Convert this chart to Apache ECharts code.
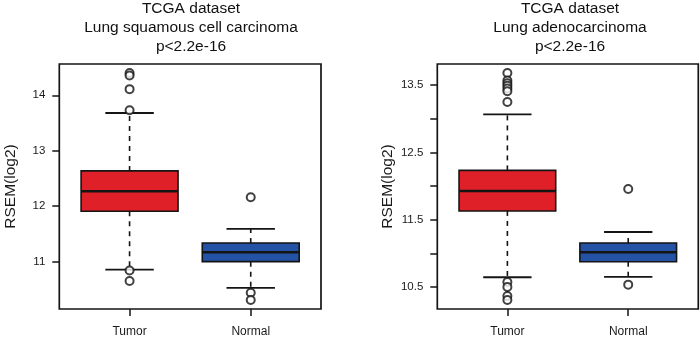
<!DOCTYPE html>
<html>
<head>
<meta charset="utf-8">
<script src="https://cdn.jsdelivr.net/npm/echarts@6/dist/echarts.min.js"></script>
<style>html,body{margin:0;padding:0;background:#fff}#c{width:700px;height:346px}</style>
</head>
<body>
<div id="c"></div>
<script>
// ---- data ----
const categories = ['Tumor', 'Normal'];
// [min whisker, Q1, median, Q3, max whisker]
const luscTumorBox  = [10.856, 11.91, 12.27, 12.636, 13.68];
const luscNormalBox = [10.526, 11.00, 11.17, 11.337, 11.59];
const luscTumorOut  = [14.40, 14.355, 14.11, 13.73, 10.84, 10.65];
const luscNormalOut = [12.16, 10.44, 10.31];
const luadTumorBox  = [10.644, 11.63, 11.926, 12.233, 13.065];
const luadNormalBox = [10.65, 10.875, 11.015, 11.153, 11.317];
const luadTumorOut  = [13.68, 13.57, 13.53, 13.49, 13.45, 13.41, 13.25, 10.574, 10.50, 10.366, 10.307];
const luadNormalOut = [11.955, 10.534];
const luscTicks = [11, 12, 13, 14];
const luscLabels = [11, 12, 13, 14];
const luadTicks = [10.5, 11, 11.5, 12, 12.5, 13, 13.5];
const luadLabels = [10.5, 11.5, 12.5, 13.5];
const titleLusc = ['TCGA dataset', 'Lung squamous cell carcinoma', 'p<2.2e-16'];
const titleLuad = ['TCGA dataset', 'Lung adenocarcinoma', 'p<2.2e-16'];
const yName = 'RSEM(log2)';
const boxColors = ['#DF2029', '#2452A4'];

const FONT = 'Liberation Sans, Arial, Helvetica, sans-serif';

function range(boxes, outs) {
  const all = [].concat(...boxes, ...outs);
  const lo = Math.min(...all), hi = Math.max(...all);
  const pad = (hi - lo) * 0.04;
  return [lo - pad, hi + pad];
}

function renderBox(params, api) {
  const x = api.value(0);
  const p = [1, 2, 3, 4, 5].map(i => api.coord([x, api.value(i)]));
  const w = api.size([0.8, 0])[0];
  const cx = p[2][0];
  const stroke = '#141414';
  const dash = { stroke, lineWidth: 1.6, lineDash: [5, 5] };
  const cap = { stroke, lineWidth: 1.8 };
  return {
    type: 'group',
    children: [
      { type: 'line', shape: { x1: cx, y1: p[3][1], x2: cx, y2: p[4][1] }, style: dash },
      { type: 'line', shape: { x1: cx, y1: p[1][1], x2: cx, y2: p[0][1] }, style: dash },
      { type: 'line', shape: { x1: cx - w / 4, y1: p[4][1], x2: cx + w / 4, y2: p[4][1] }, style: cap },
      { type: 'line', shape: { x1: cx - w / 4, y1: p[0][1], x2: cx + w / 4, y2: p[0][1] }, style: cap },
      { type: 'rect', shape: { x: cx - w / 2, y: p[3][1], width: w, height: p[1][1] - p[3][1] },
        style: { fill: boxColors[params.dataIndex], stroke, lineWidth: 1.6 } },
      { type: 'line', shape: { x1: cx - w / 2, y1: p[2][1], x2: cx + w / 2, y2: p[2][1] }, style: { stroke, lineWidth: 2.4 } }
    ]
  };
}

function boxData(tb, nb) {
  return [[1].concat(tb), [2].concat(nb)];
}
function outData(to, no) {
  return to.map(v => [1, v]).concat(no.map(v => [2, v]));
}

const grids = [
  { left: 59.3, top: 64, width: 261.7, height: 245 },
  { left: 437.3, top: 64, width: 261, height: 245 }
].map(g => Object.assign(g, { show: true, borderColor: '#141414', borderWidth: 1.7, backgroundColor: 'transparent', containLabel: false }));

function xAxis(gi) {
  return {
    type: 'value', gridIndex: gi, min: 0.42, max: 2.58,
    splitLine: { show: false },
    axisLine: { show: false },
    axisTick: { show: true, customValues: [1, 2], length: 7, lineStyle: { color: '#141414', width: 1.5 } },
    axisLabel: { show: true, customValues: [1, 2], margin: 17, fontSize: 12, fontFamily: FONT, color: '#1a1a1a',
      formatter: v => categories[Math.round(v) - 1] }
  };
}
function yAxis(gi, r, ticks, labels, gap) {
  return {
    type: 'value', gridIndex: gi, min: r[0], max: r[1],
    name: yName, nameLocation: 'middle', nameGap: gap,
    nameTextStyle: { fontSize: 15.5, fontFamily: FONT, color: '#1a1a1a' },
    splitLine: { show: false },
    axisLine: { show: false },
    axisTick: { show: true, customValues: ticks, length: 7, lineStyle: { color: '#141414', width: 1.5 } },
    axisLabel: { show: true, customValues: labels, margin: 14, fontSize: 11.5, fontFamily: FONT, color: '#1a1a1a' }
  };
}

const r1 = range([luscTumorBox, luscNormalBox], [luscTumorOut, luscNormalOut]);
const r2 = range([luadTumorBox, luadNormalBox], [luadTumorOut, luadNormalOut]);

function titleText(lines, cx) {
  return lines.map((t, i) => ({
    type: 'text', x: cx, y: 8.5 + i * 19,
    style: { text: t, textAlign: 'center', textVerticalAlign: 'middle', font: '15.5px ' + FONT, fill: '#111' }
  }));
}

const option = {
  animation: false,
  backgroundColor: '#fff',
  grid: grids,
  xAxis: [xAxis(0), xAxis(1)],
  yAxis: [yAxis(0, r1, luscTicks, luscLabels, 41), yAxis(1, r2, luadTicks, luadLabels, 42)],
  graphic: titleText(titleLusc, 191).concat(titleText(titleLuad, 570)),
  series: [
    { type: 'custom', xAxisIndex: 0, yAxisIndex: 0, renderItem: renderBox, data: boxData(luscTumorBox, luscNormalBox), z: 2 },
    { type: 'custom', xAxisIndex: 1, yAxisIndex: 1, renderItem: renderBox, data: boxData(luadTumorBox, luadNormalBox), z: 2 },
    { type: 'scatter', xAxisIndex: 0, yAxisIndex: 0, data: outData(luscTumorOut, luscNormalOut), symbol: 'emptyCircle', symbolSize: 8,
      itemStyle: { color: '#111', borderColor: '#111', borderWidth: 1.6 }, z: 3 },
    { type: 'scatter', xAxisIndex: 1, yAxisIndex: 1, data: outData(luadTumorOut, luadNormalOut), symbol: 'emptyCircle', symbolSize: 8,
      itemStyle: { color: '#111', borderColor: '#111', borderWidth: 1.6 }, z: 3 }
  ]
};

const chart = echarts.init(document.getElementById('c'), null, { renderer: 'canvas' });
chart.setOption(option);
</script>
</body>
</html>
